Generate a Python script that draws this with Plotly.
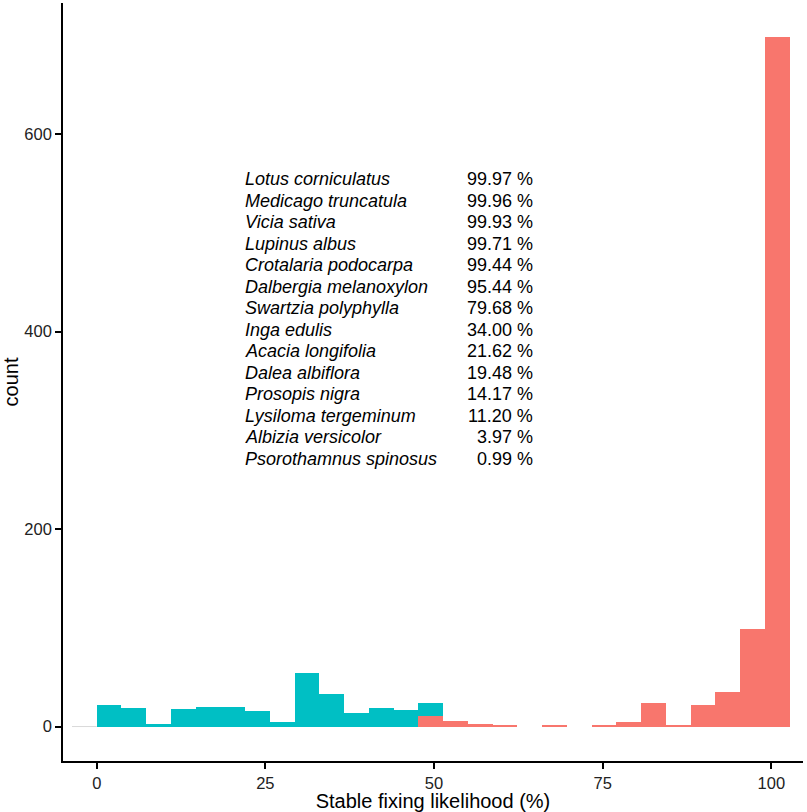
import plotly.graph_objects as go

# histogram bins (Stable fixing likelihood, %)
BIN_START = 0.0
BIN_WIDTH = 3.668

# counts per bin, split by group (stacked, ggplot-style)
low_counts = [22, 19, 3, 18, 20, 20, 16, 5, 54, 33, 14, 19, 17, 13,
              0, 0, 0, 0, 0, 0, 0, 0, 0, 0, 0, 0, 0, 0]
high_counts = [0, 0, 0, 0, 0, 0, 0, 0, 0, 0, 0, 0, 0, 11,
               6, 3, 2, 0, 1, 0, 1, 5, 24, 2, 22, 35, 99, 698]

species = [
    "Lotus corniculatus", "Medicago truncatula", "Vicia sativa", "Lupinus albus",
    "Crotalaria podocarpa", "Dalbergia melanoxylon", "Swartzia polyphylla",
    "Inga edulis", "Acacia longifolia", "Dalea albiflora", "Prosopis nigra",
    "Lysiloma tergeminum", "Albizia versicolor", "Psorothamnus spinosus",
]
likelihood = [99.97, 99.96, 99.93, 99.71, 99.44, 95.44, 79.68,
              34.00, 21.62, 19.48, 14.17, 11.20, 3.97, 0.99]

x_ticks = [0, 25, 50, 75, 100]
y_ticks = [0, 200, 400, 600]

CYAN = "#00BFC4"
RED = "#F8766D"
FONT = "Liberation Sans, Arial, sans-serif"

centers = [BIN_START + BIN_WIDTH * (i + 0.5) for i in range(len(low_counts))]

fig = go.Figure()

# empty bin left of the data, drawn as a faint baseline like ggplot does
fig.add_trace(go.Scatter(
    x=[BIN_START - BIN_WIDTH, BIN_START], y=[0, 0], mode="lines",
    line=dict(color="#d9d9d9", width=1), showlegend=False, hoverinfo="skip",
))
fig.add_trace(go.Bar(
    x=centers, y=high_counts, width=BIN_WIDTH, marker=dict(color=RED, line=dict(width=0)),
    showlegend=False,
))
fig.add_trace(go.Bar(
    x=centers, y=low_counts, width=BIN_WIDTH, marker=dict(color=CYAN, line=dict(width=0)),
    showlegend=False,
))

# species table as text
row_top = (761 - 179) / 758
row_step = 21.5 / 758
for i, (name, pct) in enumerate(zip(species, likelihood)):
    y = row_top - i * row_step
    fig.add_annotation(
        x=0.2446, y=y, xref="paper", yref="paper", xanchor="left", yanchor="middle",
        text=f"<i>{name}</i>", showarrow=False, borderpad=0,
        font=dict(family=FONT, size=18, color="black"),
    )
    fig.add_annotation(
        x=0.637, y=y, xref="paper", yref="paper", xanchor="right", yanchor="middle",
        text=f"{pct:.2f} %", showarrow=False, borderpad=0,
        font=dict(family=FONT, size=18, color="black"),
    )

axis_common = dict(
    showgrid=False, zeroline=False, showline=True, linecolor="black", linewidth=1.6,
    ticks="outside", ticklen=6, tickwidth=1.6, tickcolor="black", automargin=False,
    tickfont=dict(family=FONT, size=16.5, color="#222222"),
)

fig.update_layout(
    width=807, height=812,
    barmode="stack", bargap=0,
    plot_bgcolor="white", paper_bgcolor="white",
    margin=dict(l=63, r=4, t=3, b=51),
    font=dict(family=FONT),
    xaxis=dict(
        range=[-5.0, 104.7], tickvals=x_ticks,
        title=dict(text="Stable fixing likelihood (%)", font=dict(family=FONT, size=20, color="black"), standoff=0),
        **axis_common,
    ),
    yaxis=dict(
        range=[-34.9, 732.9], tickvals=y_ticks,
        title=dict(text="count", font=dict(family=FONT, size=20, color="black"), standoff=4),
        **axis_common,
    ),
)

# drop the default page margin so the figure fills the window exactly
fig.write_html(
    "out.html",
    config={"displayModeBar": False},
    post_script="document.body.style.margin='0';",
)
